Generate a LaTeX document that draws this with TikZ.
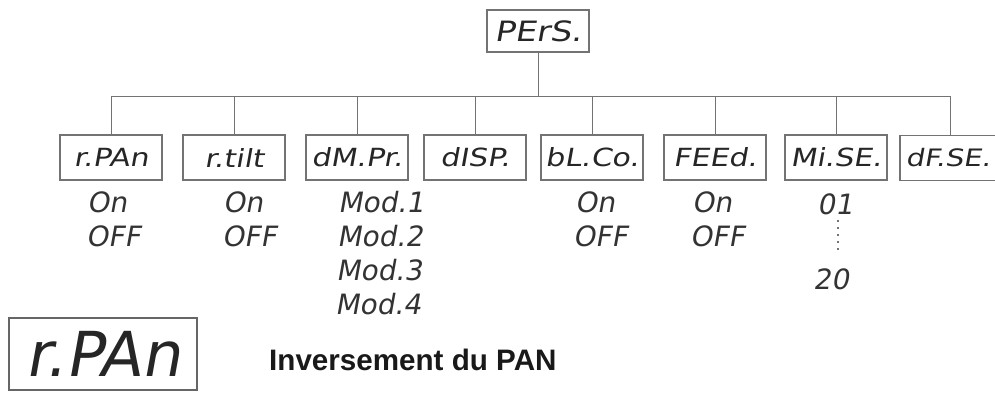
\documentclass[tikz,border=0pt]{standalone}
\usepackage{fontspec}
\setmainfont{Liberation Sans}
\newfontfamily\segn{DejaVu Sans}[FakeSlant=0.18]
\newfontfamily\segw{DejaVu Sans}[FakeSlant=0.18,FakeStretch=1.2]
\begin{document}
\begin{tikzpicture}[x=1pt,y=-1pt,
  menubox/.style={draw=black!55, line width=1.4pt, minimum width=102pt, minimum height=45pt,
    inner sep=0pt, font=\segw\fontsize{25}{25}\selectfont, text=black!85},
  rootbox/.style={menubox, minimum height=42pt, font=\segw\fontsize{28}{28}\selectfont},
  opt/.style={anchor=base west, inner sep=0pt, font=\segn\fontsize{28}{28}\selectfont, text=black!80},
  tree/.style={draw=black!55, line width=1pt},
  bigbox/.style={draw=black!60, line width=2pt, minimum width=188pt, minimum height=72pt,
    inner sep=0pt, font=\segn\fontsize{62}{62}\selectfont, text=black!85},
  caption/.style={anchor=base west, inner sep=0pt, font=\bfseries\fontsize{29.6}{30}\selectfont, text=black!90}
]
\clip (0,0) rectangle (995,392);
% root
\node[rootbox] (root) at (538,31) {PErS.};
\coordinate (hl) at (111,96);
\coordinate (hr) at (950,96);
% children
\node[menubox] (c1) at (111,157.5) {r.PAn};
\node[menubox] (c2) at (234,157.5) {r.tilt};
\node[menubox] (c3) at (357,157.5) {dM.Pr.};
\node[menubox] (c4) at (475,157.5) {dISP.};
\node[menubox] (c5) at (592,157.5) {bL.Co.};
\node[menubox] (c6) at (715,157.5) {FEEd.};
\node[menubox] (c7) at (836,157.5) {Mi.SE.};
\node[menubox, minimum width=96pt, font=\segw\fontsize{24}{24}\selectfont] (c8) at (948,158) {dF.SE.};
% tree lines
\draw[tree] (root.south) -- (root.south |- hl);
\draw[tree] (hl) -- (hr);
\foreach \c in {c1,c2,c3,c4,c5,c6,c7}{
  \draw[tree] (\c.north |- hl) -- (\c.north);
}
\draw[tree] (hr) -- (hr |- c8.north);
% options
\node[opt] (o1a) at (87,212) {On};
\node[opt] (o1b) at (86,246) {OFF};
\node[opt] (o2a) at (223,212) {On};
\node[opt] (o2b) at (222,246) {OFF};
\node[opt] (m1) at (338,212) {Mod.1};
\node[opt] (m2) at (337,246) {Mod.2};
\node[opt] (m3) at (336,280) {Mod.3};
\node[opt] (m4) at (335,314) {Mod.4};
\node[opt] (o5a) at (575,212) {On};
\node[opt] (o5b) at (573,246) {OFF};
\node[opt] (o6a) at (692,212) {On};
\node[opt] (o6b) at (690,246) {OFF};
\node[opt] (n01) at (817,214) {01};
\node[opt] (n20) at (813,289) {20};
\draw[black!55, line width=1.8pt, dash pattern=on 1.8pt off 5.2pt] (838,220) -- (838,254);
% bottom legend
\node[bigbox] (big) at (103,354) {r.PAn};
\node[caption] (cap) at (269,370) {Inversement du PAN};
\end{tikzpicture}
\end{document}
